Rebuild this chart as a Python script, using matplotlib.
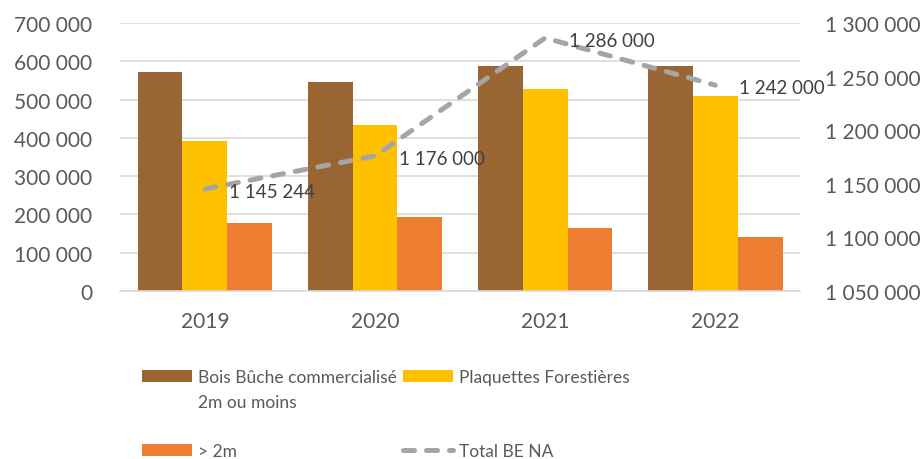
import matplotlib.pyplot as plt
from matplotlib.patches import Patch
import numpy as np

plt.rcParams['font.family'] = ['Lato', 'DejaVu Sans']

years = ['2019', '2020', '2021', '2022']
bois_buche = [571000, 546000, 588000, 588000]
plaquettes = [392000, 434000, 527000, 509000]
sup_2m = [179000, 193000, 165000, 141000]
total_be_na = [1145244, 1176000, 1286000, 1242000]
total_labels = ['1 145 244', '1 176 000', '1 286 000', '1 242 000']

TXT = '#595959'


def fmt(v, pos=None):
    return '{:,.0f}'.format(v).replace(',', ' ')


fig = plt.figure(figsize=(9.22, 4.6), dpi=100)
ax = fig.add_axes([0.130, 0.365, 0.738, 0.583])
ax2 = ax.twinx()

x = np.arange(len(years))
w = 0.264
b1 = ax.bar(x - w, bois_buche, w, color='#996633', zorder=2)
b2 = ax.bar(x, plaquettes, w, color='#FFC000', zorder=2)
b3 = ax.bar(x + w, sup_2m, w, color='#ED7D31', zorder=2)

ax.set_ylim(0, 700000)
ax.set_yticks(np.arange(0, 700001, 100000))
ax.yaxis.set_major_formatter(plt.FuncFormatter(fmt))
ax.set_xlim(-0.5, 3.5)
ax.set_xticks(x)
ax.set_xticklabels(years)
ax.grid(axis='y', color='#D9D9D9', lw=1.2, zorder=0)
ax.set_axisbelow(True)

ln, = ax2.plot(x, total_be_na, color='#A5A5A5', lw=3.6,
               linestyle=(0, (2.2, 2.4)), dash_capstyle='round', zorder=3)
ax2.set_ylim(1050000, 1300000)
ax2.set_yticks(np.arange(1050000, 1300001, 50000))
ax2.yaxis.set_major_formatter(plt.FuncFormatter(fmt))
for xi, v, lab in zip(x, total_be_na, total_labels):
    ax2.annotate(lab, (xi, v), xytext=(17, -1.5), textcoords='offset points',
                 ha='left', va='center', fontsize=13.5, color='#404040')

for a in (ax, ax2):
    for side in ('top', 'left', 'right', 'bottom'):
        a.spines[side].set_visible(False)
    a.tick_params(length=0, labelsize=15, labelcolor=TXT)
ax.spines['bottom'].set_visible(True)
ax.spines['bottom'].set_color('#D9D9D9')
ax.spines['bottom'].set_linewidth(1.2)
ax.tick_params(axis='x', pad=14)
ax.tick_params(axis='y', pad=20)
ax2.tick_params(axis='y', pad=18)

# legend laid out like Excel's: 2 columns, wrapped first label, spacer row
blank = Patch(alpha=0)
handles = [b1, blank, blank, b3, b2, blank, blank, ln]
labels = ['Bois Bûche commercialisé', '2m ou moins', ' ', '> 2m',
          'Plaquettes Forestières', ' ', ' ', 'Total BE NA']
fig.legend(handles, labels, ncol=2, loc='upper left',
           bbox_to_anchor=(0.137, 0.229), frameon=False, fontsize=12.5,
           labelcolor=TXT, handlelength=2.87, handleheight=0.72,
           columnspacing=0.35, labelspacing=0.49, handletextpad=0.35)

fig.savefig('out.png', dpi=100)
